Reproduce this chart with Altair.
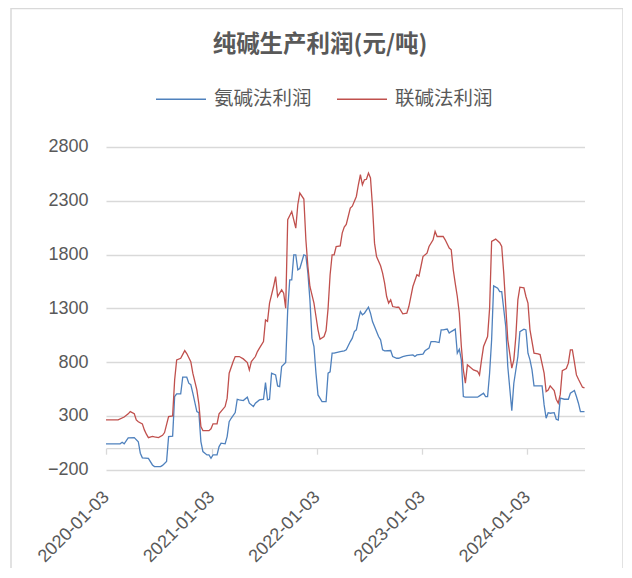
import altair as alt
import pandas as pd
import numpy as np

start = "2020-01-03"
blue_name = "氨碱法利润"
red_name = "联碱法利润"
title_text = "纯碱生产利润(元/吨)"

# weeks since 2020-01-03 and values
blue_weeks = [0, 7, 8, 9, 11, 14, 16, 17, 18, 21, 23, 24, 27, 28, 30, 31, 33, 34, 35, 37, 38, 40, 41, 42, 43, 45, 46, 47,
              48, 50, 51, 52, 53, 55, 56, 57, 59, 60, 61, 62, 64, 65, 66, 68, 70, 71, 73, 74, 76, 78, 79, 80, 81, 82, 84,
              85, 86, 87, 89, 90, 91, 92, 93, 94, 95, 96, 98, 99, 100, 101, 102, 103, 104, 105, 107, 109, 110, 111, 112,
              113, 116, 118, 119, 121, 122, 123, 124, 125, 126, 127, 128, 130, 131, 132, 133, 135, 136, 137, 138, 141,
              142, 144, 145, 147, 149, 152, 153, 154, 157, 158, 160, 161, 163, 165, 166, 167, 169, 170, 171, 173, 174,
              175, 176, 177, 178, 180, 184, 185, 187, 188, 189, 190, 191, 192, 194, 195, 196, 198, 199, 201, 202, 204,
              205, 207, 208, 209, 210, 211, 212, 214, 216, 217, 218, 219, 220, 222, 223, 224, 225, 227, 229, 230, 232,
              233, 234, 235, 237]
blue_vals = [40, 40, 55, 40, 95, 98, 60, -47, -90, -95, -156, -171, -171, -160, -123, 107, 112, 480, 505, 505, 660, 660,
             604, 590, 511, 340, 330, 61, -32, -63, -63, -94, -63, -63, 15, 46, 40, 108, 247, 278, 331, 455, 449, 443,
             474, 418, 387, 418, 449, 455, 610, 449, 455, 697, 681, 579, 573, 759, 796, 1286, 1565, 1565, 1798, 1798,
             1658, 1670, 1798, 1790, 1627, 1379, 1023, 945, 697, 495, 433, 433, 697, 710, 883, 883, 898, 905, 915, 991,
             1023, 1084, 1100, 1193, 1270, 1240, 1255, 1311, 1255, 1177, 1131, 1038, 1007, 914, 905, 908, 852, 836, 836,
             852, 860, 867, 852, 867, 874, 905, 930, 991, 991, 982, 1100, 1100, 1107, 1070, 1084, 1107, 883, 920, 821,
             480, 474, 474, 474, 486, 511, 480, 480, 697, 1007, 1509, 1487, 1456, 1456, 1131, 759, 349, 604, 852, 1084,
             1107, 1100, 883, 821, 728, 579, 579, 579, 402, 279, 330, 325, 330, 269, 262, 465, 455, 455, 511, 536, 480,
             418, 340, 340]

red_weeks = [0, 6, 9, 11, 12, 14, 15, 16, 18, 19, 20, 21, 23, 24, 26, 28, 29, 31, 33, 34, 35, 37, 39, 40, 42, 43, 45, 46,
             47, 48, 51, 52, 53, 55, 56, 59, 60, 61, 63, 64, 66, 68, 70, 71, 72, 74, 75, 76, 78, 79, 80, 81, 83, 84, 85,
             87, 88, 89, 90, 92, 94, 95, 96, 98, 99, 100, 101, 103, 104, 105, 106, 108, 109, 110, 111, 112, 113, 114,
             116, 117, 118, 119, 121, 122, 124, 125, 126, 127, 128, 129, 130, 131, 132, 133, 134, 136, 137, 138, 139,
             140, 141, 142, 144, 145, 147, 149, 150, 151, 152, 154, 155, 156, 157, 159, 160, 162, 163, 164, 166, 167,
             168, 170, 171, 172, 173, 174, 175, 176, 177, 178, 179, 180, 182, 184, 185, 186, 187, 189, 190, 191, 193,
             195, 196, 197, 198, 199, 201, 202, 203, 204, 205, 207, 208, 209, 210, 212, 214, 215, 217, 218, 219, 220,
             222, 223, 224, 225, 226, 228, 229, 230, 231, 232, 233, 234, 235, 236, 237]
red_vals = [263, 263, 290, 319, 340, 320, 263, 245, 226, 170, 130, 98, 110, 104, 98, 120, 145, 294, 300, 635, 821, 836,
            907, 880, 805, 697, 542, 409, 200, 163, 163, 180, 226, 226, 319, 387, 465, 697, 805, 852, 852, 830, 796, 728,
            805, 852, 898, 930, 991, 1193, 1180, 1349, 1503, 1596, 1410, 1472, 1440, 1302, 2124, 2200, 2046, 2263, 2372,
            2316, 1937, 1689, 1503, 1349, 1224, 1100, 1013, 1038, 1094, 1300, 1612, 1798, 1798, 1875, 1880, 2000, 2056,
            2080, 2232, 2250, 2340, 2449, 2542, 2449, 2495, 2500, 2558, 2512, 2247, 1906, 1782, 1696, 1627, 1535, 1410,
            1349, 1380, 1317, 1310, 1310, 1249, 1255, 1317, 1410, 1503, 1612, 1600, 1689, 1782, 1813, 1875, 1937, 2015,
            1968, 1968, 1968, 1937, 1860, 1844, 1658, 1530, 1410, 1255, 945, 728, 604, 775, 760, 728, 715, 681, 821,
            945, 1038, 1300, 1922, 1944, 1910, 1875, 1627, 1317, 1007, 744, 821, 1038, 1379, 1497, 1490, 1410, 1349,
            1100, 883, 877, 870, 697, 526, 540, 579, 536, 455, 418, 500, 721, 740, 790, 914, 914, 800, 681, 640, 604,
            567, 560]

y_ticks = [-200, 300, 800, 1300, 1800, 2300, 2800]
x_ticks = ["2020-01-03", "2021-01-03", "2022-01-03", "2023-01-03", "2024-01-03"]
x_end_week = 237
y_min, y_max = -200, 2800

W, H = 478.5, 322.7


def to_dates(weeks):
    return list((pd.Timestamp(start) + pd.to_timedelta(np.array(weeks) * 7, unit="D")).strftime("%Y-%m-%d"))


def dt(s):
    y, m, d = map(int, s.split("-"))
    return alt.DateTime(year=y, month=m, date=d, utc=True)


df = pd.concat([
    pd.DataFrame({"date": to_dates(blue_weeks), "value": blue_vals, "series": blue_name}),
    pd.DataFrame({"date": to_dates(red_weeks), "value": red_vals, "series": red_name}),
], ignore_index=True)
end_date = to_dates([x_end_week])[0]

label_font = "Liberation Sans"
cjk_font = "Noto Sans CJK SC"
grey = "#595959"
grid = "#d9d9d9"

lines = alt.Chart(df).mark_line(strokeWidth=1.3).encode(
    x=alt.X("date:T",
            scale=alt.Scale(type="utc", domain=[dt(start), dt(end_date)]),
            axis=alt.Axis(values=[dt(s) for s in x_ticks],
                          labelExpr="utcFormat(datum.value, '%Y-%m-%d')",
                          labelAngle=-45, labelAlign="right", labelBaseline="middle",
                          offset=-H * (0 - y_min) / (y_max - y_min),
                          tickSize=6, tickColor=grid, tickWidth=1.3,
                          domainColor=grid, domainWidth=1.3,
                          labelPadding=40, grid=False, title=None,
                          labelFontSize=18, labelColor=grey, labelFont=label_font,
                          labelOverlap=False, labelFlush=False)),
    y=alt.Y("value:Q",
            scale=alt.Scale(domain=[y_min, y_max], nice=False, zero=False),
            axis=alt.Axis(values=y_ticks, format="d", grid=True, gridColor=grid, gridWidth=1.3,
                          domain=False, ticks=False, labelPadding=18, title=None,
                          labelFontSize=18, labelColor=grey, labelFont=label_font)),
    color=alt.Color("series:N",
                    scale=alt.Scale(domain=[blue_name, red_name], range=["#4f81bd", "#c0504d"]),
                    legend=alt.Legend(title=None, orient="none", legendX=49, legendY=-74,
                                      direction="horizontal", symbolType="stroke", symbolSize=2500,
                                      symbolStrokeWidth=1.5, labelFontSize=19.5, labelColor=grey,
                                      labelFont=cjk_font, columnPadding=22, labelOffset=7, padding=0)),
)

one = pd.DataFrame({"t": [title_text]})

border = alt.Chart(one).mark_rect(
    filled=False, stroke=grid, strokeWidth=1.5
).encode(
    x=alt.value(-95), x2=alt.value(517), y=alt.value(-138.5), y2=alt.value(440)
)

title = alt.Chart(one).mark_text(
    font=cjk_font, fontSize=23.5, fontWeight="bold", color=grey, align="center", baseline="bottom"
).encode(
    text="t:N", x=alt.value(214), y=alt.value(-90)
)

chart = alt.layer(border, title, lines).properties(
    width=W, height=H,
    background="white",
    autosize=alt.AutoSizeParams(type="none"),
    padding={"left": 98, "top": 139, "right": 38, "bottom": 98},
).configure_view(stroke=None, strokeWidth=0)

chart.save("out.html", embed_options={"renderer": "svg", "actions": False})
